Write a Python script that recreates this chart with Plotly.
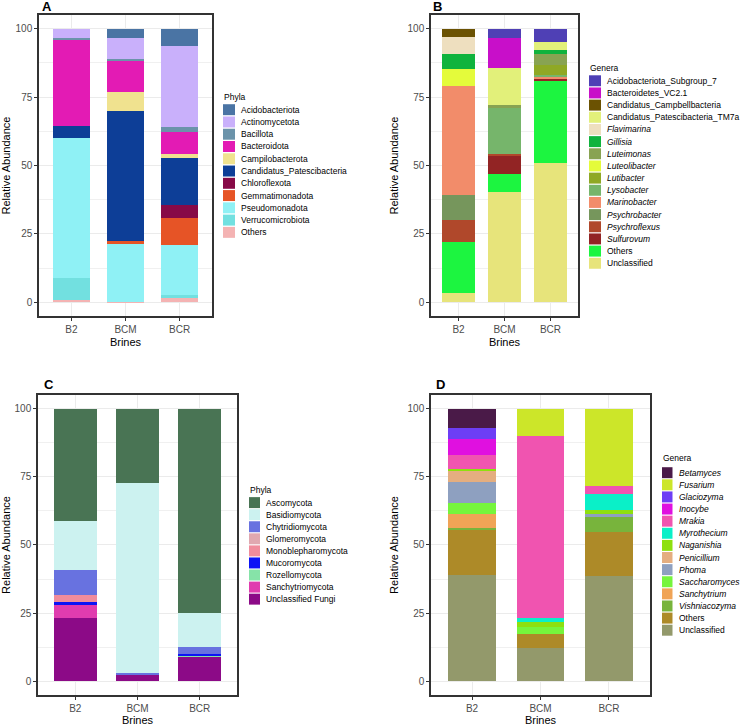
import plotly.graph_objects as go

W, H = 740, 726
FONT = "Liberation Sans, Arial, sans-serif"

brines = ["B2", "BCM", "BCR"]

# ---------------- Panel A: bacterial phyla ----------------
a_names = ["Acidobacteriota", "Actinomycetota", "Bacillota", "Bacteroidota",
           "Campilobacterota", "Candidatus_Patescibacteria", "Chloroflexota",
           "Gemmatimonadota", "Pseudomonadota", "Verrucomicrobiota", "Others"]
a_colors = ["#4a74a4", "#c9b0fb", "#6b93aa", "#e31bb4", "#f0e28f", "#0d3e97",
            "#870a47", "#e65426", "#8ff1f5", "#72e0e0", "#f4b3b3"]
a_B2 = [0.0, 3.3, 0.9, 31.4, 0.0, 4.4, 0.0, 0.0, 51.2, 7.8, 1.0]
a_BCM = [3.5, 7.5, 0.6, 11.4, 7.0, 47.4, 0.0, 1.3, 21.1, 0.0, 0.2]
a_BCR = [6.2, 29.7, 1.9, 7.9, 1.6, 17.0, 4.9, 9.8, 18.3, 1.1, 1.6]
a_italic = [False] * len(a_names)

# ---------------- Panel B: bacterial genera ----------------
b_names = ["Acidobacteriota_Subgroup_7", "Bacteroidetes_VC2.1",
           "Candidatus_Campbellbacteria", "Candidatus_Patescibacteria_TM7a",
           "Flavimarina", "Gillisia", "Luteimonas", "Luteolibacter", "Lutibacter",
           "Lysobacter", "Marinobacter", "Psychrobacter", "Psychroflexus",
           "Sulfurovum", "Others", "Unclassified"]
b_colors = ["#4f40b5", "#c80fc9", "#6b5202", "#e2f07a", "#eedfbf", "#10b33d",
            "#88a352", "#e4fb3b", "#8fa825", "#76b56b", "#f28c6a", "#76965c",
            "#b0482b", "#922424", "#1cf540", "#e7e47b"]
b_B2 = [0.0, 0.0, 3.1, 0.0, 6.3, 5.4, 0.0, 6.3, 0.0, 0.0, 39.8, 9.0, 7.9, 0.0, 18.9, 3.3]
b_BCM = [3.5, 10.8, 0.0, 13.6, 0.0, 0.0, 1.0, 0.0, 0.0, 16.9, 0.0, 0.0, 0.4, 7.0, 6.3, 40.5]
b_BCR = [4.9, 0.0, 0.0, 3.0, 0.0, 1.3, 4.2, 0.0, 3.7, 0.3, 1.0, 0.0, 0.0, 0.6, 30.1, 50.9]
b_italic = [False, False, False, False, True, True, True, True, True, True,
            True, True, True, True, False, False]

# ---------------- Panel C: fungal phyla ----------------
c_names = ["Ascomycota", "Basidiomycota", "Chytridiomycota", "Glomeromycota",
           "Monoblepharomycota", "Mucoromycota", "Rozellomycota",
           "Sanchytriomycota", "Unclassified Fungi"]
c_colors = ["#497454", "#ccf2f0", "#6872e0", "#e0a8b0", "#f08c9c", "#0c14f5",
            "#86e3a8", "#e03caf", "#8c0a87"]
c_B2 = [41.1, 17.9, 9.2, 0.0, 2.8, 0.9, 0.0, 5.0, 23.1]
c_BCM = [27.3, 69.5, 1.0, 0.0, 0.0, 0.0, 0.0, 0.0, 2.2]
c_BCR = [74.9, 12.3, 2.8, 0.0, 0.0, 0.6, 0.4, 0.0, 9.0]
c_italic = [False] * len(c_names)

# ---------------- Panel D: fungal genera ----------------
d_names = ["Betamyces", "Fusarium", "Glaciozyma", "Inocybe", "Mrakia",
           "Myrothecium", "Naganishia", "Penicillium", "Phoma", "Saccharomyces",
           "Sanchytrium", "Vishniacozyma", "Others", "Unclassified"]
d_colors = ["#4a1a48", "#cce629", "#6d3ef5", "#e010e0", "#f054b0", "#0af0c8",
            "#8ee00f", "#e4ae80", "#8ea0c0", "#76f53c", "#f0a456", "#78b43c",
            "#ad8a28", "#93996b"]
d_B2 = [7.0, 0.0, 4.0, 5.9, 5.1, 0.0, 0.6, 4.3, 7.8, 4.0, 4.9, 0.6, 16.9, 38.9]
d_BCM = [0.0, 9.9, 0.0, 0.0, 66.8, 1.6, 1.6, 0.0, 0.0, 2.7, 0.0, 0.0, 5.1, 12.3]
d_BCR = [0.0, 28.4, 0.0, 0.0, 2.8, 6.0, 1.6, 0.0, 0.6, 0.0, 0.0, 5.9, 16.0, 38.7]
d_italic = [True] * 12 + [False, False]

panels = [
    ("A", a_names, a_colors, a_B2, a_BCM, a_BCR, a_italic, "Phyla"),
    ("B", b_names, b_colors, b_B2, b_BCM, b_BCR, b_italic, "Genera"),
    ("C", c_names, c_colors, c_B2, c_BCM, c_BCR, c_italic, "Phyla"),
    ("D", d_names, d_colors, d_B2, d_BCM, d_BCR, d_italic, "Genera"),
]

# pixel geometry of each panel: (left, right, top, bottom)
boxes = [(39, 212, 15, 317), (431, 578, 15, 317), (38, 237, 396, 697), (431, 650, 396, 697)]
# legend geometry: (key_left, title_y, first_item_y, step, key_w, text_x)
legends = [(223, 97, 110, 12.3, 12, 239), (589, 68, 81, 12.2, 12, 605),
           (249, 491, 504, 12.1, 11, 264), (662, 459, 474, 12.15, 10.5, 677)]
# panel tag positions
tags = [(47, 7), (438, 7), (49, 386), (440, 386)]

fig = go.Figure()
shapes = []
annotations = []

def px(x):
    return x / W

def py(y):
    return 1 - y / H

for k, (tag, names, colors, v1, v2, v3, italic, ltitle) in enumerate(panels):
    xa = "x" if k == 0 else f"x{k+1}"
    ya = "y" if k == 0 else f"y{k+1}"
    # ggplot stacks the first level on top -> add in reverse order
    for i in reversed(range(len(names))):
        fig.add_trace(go.Bar(
            x=brines, y=[v1[i], v2[i], v3[i]], name=names[i],
            marker=dict(color=colors[i], line=dict(width=0)),
            xaxis=xa, yaxis=ya, showlegend=False,
        ))
    l, r, t, b = boxes[k]
    axn = "" if k == 0 else str(k + 1)
    fig.layout["xaxis" + axn] = dict(
        domain=[px(l), px(r)], anchor=ya, range=[-0.6, 2.6],
        type="category", categoryorder="array", categoryarray=brines,
        showline=True, mirror=True, linecolor="#333333", linewidth=1.5,
        showgrid=True, gridcolor="#ebebeb", gridwidth=1, zeroline=False,
        ticks="outside", ticklen=3, tickcolor="#333333", tickwidth=1,
        tickfont=dict(size=10, color="#4d4d4d", family=FONT),
        title=dict(text="Brines", font=dict(size=11, color="black", family=FONT), standoff=4),
        automargin=True,
    )
    fig.layout["yaxis" + axn] = dict(
        domain=[py(b), py(t)], anchor=xa, range=[-5, 105],
        tickvals=[0, 25, 50, 75, 100],
        showline=True, mirror=True, linecolor="#333333", linewidth=1.5,
        showgrid=True, gridcolor="#ebebeb", gridwidth=1, zeroline=False,
        minor=dict(tickvals=[12.5, 37.5, 62.5, 87.5], showgrid=True,
                   gridcolor="#f0f0f0", gridwidth=0.6),
        ticks="outside", ticklen=3, tickcolor="#333333", tickwidth=1,
        tickfont=dict(size=10, color="#4d4d4d", family=FONT),
        title=dict(text="Relative Abundance", font=dict(size=11, color="black", family=FONT), standoff=7),
        automargin=True,
    )
    # panel tag
    tx, ty = tags[k]
    annotations.append(dict(text=f"<b>{tag}</b>", x=px(tx), y=py(ty), xref="paper", yref="paper",
                            showarrow=False, xanchor="center", yanchor="middle",
                            font=dict(size=13, color="black", family=FONT)))
    # legend (ggplot-style compact key list)
    kl, ty_title, y0, step, kw, txt_x = legends[k]
    annotations.append(dict(text=ltitle, x=px(kl - 1), y=py(ty_title), xref="paper", yref="paper",
                            showarrow=False, xanchor="left", yanchor="middle",
                            font=dict(size=8.5, color="black", family=FONT)))
    for i, nm in enumerate(names):
        cy = y0 + i * step
        shapes.append(dict(type="rect", xref="paper", yref="paper",
                           x0=px(kl), x1=px(kl + kw), y0=py(cy + 5.5), y1=py(cy - 5.5),
                           fillcolor=colors[i], line=dict(width=0), layer="above"))
        label = f"<i>{nm}</i>" if italic[i] else nm
        annotations.append(dict(text=label, x=px(txt_x), y=py(cy), xref="paper", yref="paper",
                                showarrow=False, xanchor="left", yanchor="middle",
                                font=dict(size=8.5, color="black", family=FONT)))

fig.update_layout(
    width=W, height=H, margin=dict(l=0, r=0, t=0, b=0),
    paper_bgcolor="white", plot_bgcolor="white",
    barmode="stack", bargap=0.3,
    showlegend=False,
    font=dict(family=FONT),
    shapes=shapes, annotations=annotations,
)

fig.write_html("out.html")
